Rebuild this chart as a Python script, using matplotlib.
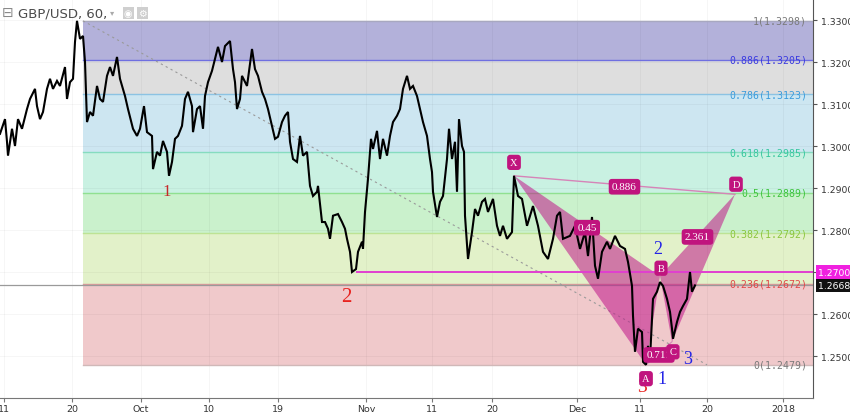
import matplotlib
matplotlib.use("Agg")
import matplotlib.pyplot as plt
import matplotlib.transforms as mtransforms

# price path (time index, close)
t = [0, 5, 7, 8, 12, 15, 18, 22, 27, 30, 35, 37, 40, 43, 47, 50, 53, 57, 60, 65,
     67, 70, 73, 75, 77, 80, 83, 85, 87, 90, 93, 97, 100, 103, 107, 110, 113, 117, 120, 125,
     128, 133, 137, 140, 144, 147, 152, 153, 157, 160, 163, 167, 169, 172, 175, 178, 182, 185, 188, 192,
     193, 197, 200, 203, 205, 208, 212, 215, 218, 222, 225, 230, 233, 235, 237, 240, 242, 247, 248, 252,
     255, 258, 262, 265, 268, 272, 275, 278, 282, 285, 288, 290, 293, 297, 300, 303, 307, 310, 313, 317,
     318, 322, 325, 328, 330, 333, 338, 342, 345, 347, 350, 352, 356, 358, 362, 363, 365, 368, 371, 373,
     377, 380, 383, 387, 390, 393, 397, 400, 403, 407, 410, 413, 417, 420, 423, 427, 430, 432, 433, 437,
     440, 443, 447, 449, 452, 455, 457, 459, 462, 464, 465, 468, 472, 475, 478, 482, 485, 488, 493, 497,
     500, 503, 507, 512, 514, 518, 522, 527, 533, 538, 543, 548, 553, 557, 560, 563, 570, 575, 580, 585,
     588, 592, 595, 598, 602, 607, 610, 615, 620, 625, 628, 632, 633, 635, 638, 642, 643, 646, 648, 650,
     653, 657, 660, 663, 667, 670, 672, 673, 677, 680, 683, 687, 690, 692, 695]
price = [1.3029, 1.3064, 1.3010, 1.2977, 1.3041, 1.3000, 1.3064, 1.3041, 1.3088, 1.3112,
         1.3136, 1.3095, 1.3064, 1.3081, 1.3136, 1.3160, 1.3136, 1.3155, 1.3143, 1.3188,
         1.3112, 1.3152, 1.3160, 1.3248, 1.3298, 1.3255, 1.3262, 1.3200, 1.3057, 1.3081,
         1.3072, 1.3143, 1.3112, 1.3105, 1.3167, 1.3188, 1.3167, 1.3212, 1.3160, 1.3119,
         1.3088, 1.3041, 1.3024, 1.3041, 1.3095, 1.3033, 1.3024, 1.2945, 1.2986, 1.2977,
         1.3012, 1.2986, 1.2929, 1.2962, 1.3017, 1.3024, 1.3048, 1.3112, 1.3129, 1.3095,
         1.3033, 1.3088, 1.3095, 1.3041, 1.3119, 1.3152, 1.3179, 1.3207, 1.3236, 1.3200,
         1.3238, 1.3250, 1.3183, 1.3152, 1.3088, 1.3112, 1.3167, 1.3143, 1.3160, 1.3231,
         1.3183, 1.3167, 1.3129, 1.3112, 1.3088, 1.3048, 1.3017, 1.3022, 1.3057, 1.3072,
         1.3081, 1.3010, 1.2969, 1.2962, 1.3024, 1.2977, 1.2986, 1.2905, 1.2881, 1.2891,
         1.2905, 1.2819, 1.2819, 1.2803, 1.2779, 1.2834, 1.2838, 1.2819, 1.2803, 1.2779,
         1.2748, 1.2700, 1.2707, 1.2748, 1.2772, 1.2755, 1.2843, 1.2922, 1.3017, 1.2993,
         1.3036, 1.2969, 1.3017, 1.2977, 1.3024, 1.3057, 1.3072, 1.3088, 1.3136, 1.3167,
         1.3136, 1.3143, 1.3119, 1.3088, 1.3057, 1.3024, 1.2969, 1.2938, 1.2891, 1.2831,
         1.2867, 1.2881, 1.2969, 1.3041, 1.2969, 1.3010, 1.2891, 1.3064, 1.3000, 1.2986,
         1.2834, 1.2731, 1.2795, 1.2850, 1.2834, 1.2867, 1.2874, 1.2843, 1.2874, 1.2810,
         1.2786, 1.2810, 1.2779, 1.2795, 1.2929, 1.2881, 1.2874, 1.2810, 1.2857, 1.2810,
         1.2748, 1.2731, 1.2779, 1.2834, 1.2843, 1.2779, 1.2786, 1.2810, 1.2755, 1.2795,
         1.2738, 1.2831, 1.2715, 1.2684, 1.2748, 1.2772, 1.2755, 1.2786, 1.2762, 1.2755,
         1.2724, 1.2667, 1.2596, 1.2510, 1.2565, 1.2557, 1.2486, 1.2479, 1.2524, 1.2493,
         1.2636, 1.2653, 1.2676, 1.2667, 1.2636, 1.2605, 1.2565, 1.2541, 1.2581, 1.2605,
         1.2619, 1.2636, 1.2700, 1.2653, 1.2668]

# fibonacci retracement
fib_ratio = ["1", "0.886", "0.786", "0.618", "0.5", "0.382", "0.236", "0"]
fib_level = [1.3298, 1.3205, 1.3123, 1.2985, 1.2889, 1.2792, 1.2672, 1.2479]
fib_fill = ["#b3b1da", "#dedede", "#cde6f1", "#c9f1e2", "#caf1cc", "#e2f1c9", "#f0c9cb"]
fib_line = ["#a8a8c0", "#6f6fe0", "#8cc3e3", "#86dcc0", "#90e090", "#bde394", "#d99a9a", "#d0b8b8"]
fib_text = ["#7a7a7a", "#3b3be0", "#3c9cdb", "#38c79f", "#3ec43e", "#8cc63f", "#e04848", "#7a7a7a"]
fib_start, fib_end = 83, 707

# XABCD pattern
pat_name = ["X", "A", "B", "C", "D"]
pat_t = [514, 646, 660, 672, 735]
pat_p = [1.2929, 1.2479, 1.2690, 1.2534, 1.2885]
ratio_xb, ratio_ac, ratio_bd, ratio_xd = "0.45", "0.711", "2.361", "0.886"

support = 1.2700
last_price = 1.2668

tick_t = [4, 72, 141, 209, 278, 366, 432, 492, 577, 640, 707, 783]
tick_lab = ["11", "20", "Oct", "10", "19", "Nov", "11", "20", "Dec", "11", "20", "2018"]
price_ticks = [1.25, 1.26, 1.27, 1.28, 1.29, 1.30, 1.31, 1.32, 1.33]

W, H = 850, 414
fig = plt.figure(figsize=(W / 100, H / 100), dpi=100)
ax = fig.add_axes([0, 15 / H, 813 / W, 399 / H])
ax.set_xlim(0, 813)
ax.set_ylim(1.2400, 1.3350)

# faint grid
for x in tick_t:
    ax.axvline(x, color="#000000", alpha=0.035, lw=0.8, zorder=1.5)
for y in price_ticks:
    ax.axhline(y, color="#000000", alpha=0.035, lw=0.8, zorder=1.5)

# fib zones
for i in range(len(fib_fill)):
    ax.fill_between([fib_start, 813], fib_level[i + 1], fib_level[i],
                    color=fib_fill[i], lw=0, zorder=1)
for i, lev in enumerate(fib_level):
    ax.plot([fib_start, 813], [lev, lev], color=fib_line[i], lw=1, zorder=1.6)
    ax.text(807, lev, f"{fib_ratio[i]}({lev:.4f})", color=fib_text[i],
            family="DejaVu Sans Mono", fontsize=7.1, ha="right", va="center", zorder=6)
ax.plot([fib_start, fib_end], [fib_level[0], fib_level[-1]], color="#9a9a9a",
        lw=0.8, ls=(0, (2, 3)), zorder=2)

# current price line
ax.axhline(last_price, color="#9a9a9a", lw=0.9, zorder=1.7)

# support line from wave-2 low
ax.plot([357, 813], [support, support], color="#e13fd0", lw=1.4, zorder=2.5)

# harmonic pattern
pc = "#c0168a"
ax.fill([pat_t[0], pat_t[1], pat_t[2]], [pat_p[0], pat_p[1], pat_p[2]],
        color=pc, alpha=0.55, lw=0, zorder=2)
ax.fill([pat_t[2], pat_t[3], pat_t[4]], [pat_p[2], pat_p[3], pat_p[4]],
        color=pc, alpha=0.55, lw=0, zorder=2)
ax.plot([pat_t[0], pat_t[4]], [pat_p[0], pat_p[4]], color="#d684b8", lw=1, zorder=2.2)
ax.plot([pat_t[1], pat_t[3]], [pat_p[1], pat_p[3]], color="#d684b8", lw=0.8, zorder=2.2)

# price
ax.plot(t, price, color="black", lw=1.5, zorder=3, solid_joinstyle="miter")

serif = "Liberation Serif"
offs = [(0, 0.0032), (0, -0.0033), (1, 0.0019), (1, -0.0024), (1, 0.0024)]
for name, x, y, (dx, dy) in zip(pat_name, pat_t, pat_p, offs):
    ax.text(x + dx, y + dy, name, color="white", fontsize=7.5, family=serif,
            ha="center", va="center", zorder=8,
            bbox=dict(boxstyle="round,pad=0.3", fc="#c0147e", ec="none"))
mid = lambda a, b: ((pat_t[a] + pat_t[b]) / 2, (pat_p[a] + pat_p[b]) / 2)
for (a, b), lab in [((0, 2), ratio_xb), ((1, 3), ratio_ac), ((2, 4), ratio_bd), ((0, 4), ratio_xd)]:
    mx, my = mid(a, b)
    ax.text(mx, my - 0.0004, lab, color="white", fontsize=8, family=serif,
            ha="center", va="center", zorder=7,
            bbox=dict(boxstyle="round,pad=0.3", fc="#c0147e", ec="none"))

# wave counts
red, blue = "#e8231f", "#2424e6"
ax.text(167, 1.2893, "1", color="#c62828", fontsize=12, family=serif, ha="center", va="center", zorder=5)
ax.text(346, 1.2641, "2", color=red, fontsize=15, family=serif, ha="center", va="center", zorder=5)
ax.text(642, 1.2427, "3", color=red, fontsize=14, family=serif, ha="center", va="center", zorder=5)
ax.text(658, 1.2757, "2", color=blue, fontsize=13, family=serif, ha="center", va="center", zorder=5)
ax.text(662, 1.2446, "1", color=blue, fontsize=13, family=serif, ha="center", va="center", zorder=5)
ax.text(688, 1.2493, "3", color=blue, fontsize=13, family=serif, ha="center", va="center", zorder=5)

# axes styling
for s in ["left", "top"]:
    ax.spines[s].set_visible(False)
ax.spines["right"].set_color("#555555")
ax.spines["bottom"].set_color("#777777")
ax.yaxis.tick_right()
ax.set_yticks(price_ticks)
# the 1.2700 label sits under the support tag
ax.set_yticklabels(["" if abs(v - support) < 1e-9 else f"{v:.4f}" for v in price_ticks])
ax.set_xticks(tick_t)
ax.set_xticklabels(tick_lab)
ax.tick_params(axis="y", length=3, width=0.8, color="#555555", labelsize=6.7,
               labelcolor="#333333", pad=2.5)
ax.tick_params(axis="x", length=3, width=0.8, color="#777777", labelsize=6.8,
               labelcolor="#333333", pad=1.5)

# price tags on the scale
tr = mtransforms.blended_transform_factory(ax.transAxes, ax.transData)
ax.text(1.006, support, "1.2700", transform=tr, color="white", fontsize=6.7, va="center",
        ha="left", bbox=dict(boxstyle="square,pad=0.25", fc="#f020e0", ec="none"),
        zorder=9, clip_on=False)
ax.text(1.006, last_price, "1.2668", transform=tr, color="white", fontsize=6.7, va="center",
        ha="left", bbox=dict(boxstyle="square,pad=0.25", fc="#111111", ec="none"),
        zorder=9, clip_on=False)

# header
fig.text(2 / W, 1 - 13 / H, "\u229f", color="#8a8a8a", fontsize=10, va="center")
fig.text(18 / W, 1 - 14 / H, "GBP/USD, 60,", color="#4a4a4a", fontsize=9.5, va="center")
fig.text(110 / W, 1 - 13 / H, "\u25be", color="#aaaaaa", fontsize=6, va="center")
for xx, ch in [(124, "\u25c9"), (138, "\u2699")]:
    fig.text(xx / W, 1 - 14 / H, ch, color="white", fontsize=7, va="center",
             bbox=dict(boxstyle="square,pad=0.15", fc="#cfcfcf", ec="none"))

fig.savefig("out.png", dpi=100)
